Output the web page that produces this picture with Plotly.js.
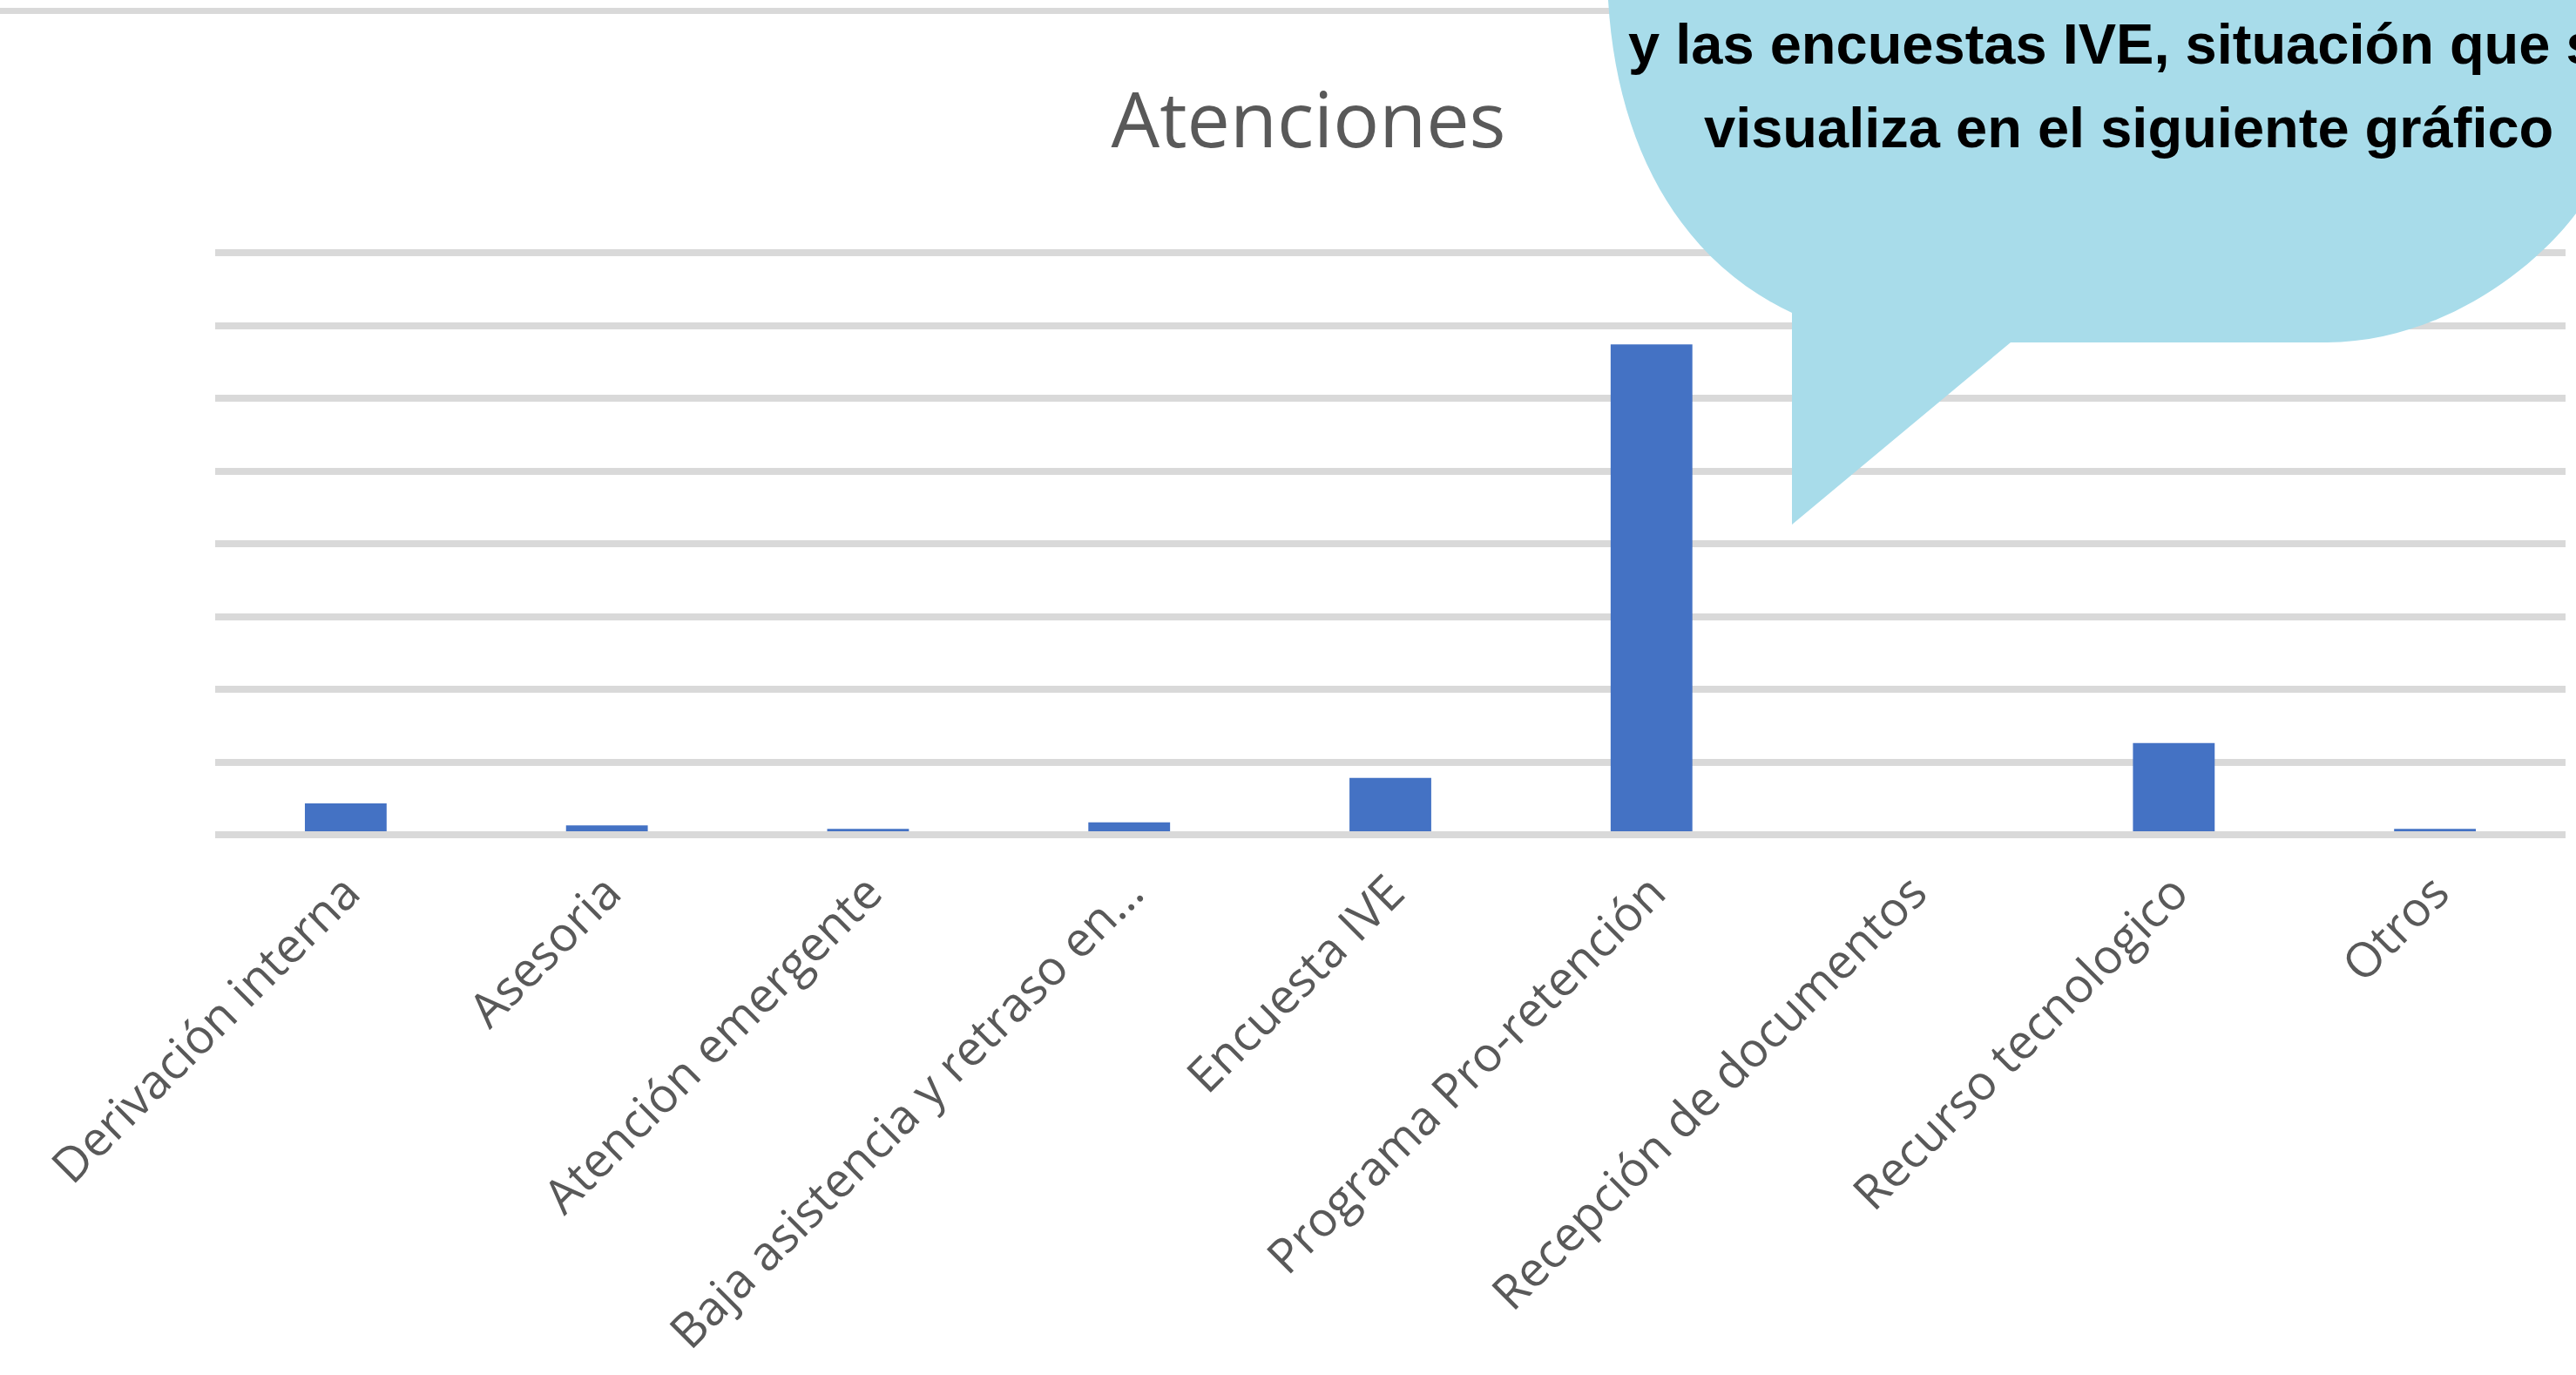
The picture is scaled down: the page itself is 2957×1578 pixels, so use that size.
<!DOCTYPE html>
<html>
<head>
<meta charset="utf-8">
<script src="https://cdn.plot.ly/plotly-3.0.1.min.js"></script>
<style>html,body{margin:0;padding:0;background:#fff;}#chart{width:2957px;height:1578px;}</style>
</head>
<body>
<div id="chart"></div>
<script>
// ---- data ----
const categories = [
  "Derivación interna",
  "Asesoria",
  "Atención emergente",
  "Baja asistencia y retraso en…",
  "Encuesta IVE",
  "Programa Pro-retención",
  "Recepción de documentos",
  "Recurso tecnologico",
  "Otros"
];
const atenciones = [43, 13, 8, 17, 78, 674, 0, 126, 8];
const yTickValues = [0, 100, 200, 300, 400, 500, 600, 700, 800];
const chartTitle = "Atenciones";
const bubbleLines = ["y las encuestas IVE, situación que se", "visualiza en el siguiente gráfico"];

// ---- geometry helpers (pixel -> paper) ----
const W = 2957, H = 1578;
const M = {l: 247, r: 12, t: 288, b: 620};
const plotW = W - M.l - M.r, plotH = H - M.t - M.b;
const yMax = plotH / 0.835;   // 83.5 px per 100 units
const px = x => ((x - M.l) / plotW).toFixed(5);
const py = y => ((H - M.b - y) / plotH).toFixed(5);
const P = (x, y) => px(x) + ',' + py(y);

const bubblePath =
  'M' + P(1846, -40) +
  ' L' + P(1846, 0) +
  ' C' + P(1856, 170) + ' ' + P(1930, 300) + ' ' + P(2057, 359) +
  ' L' + P(2057, 602) +
  ' L' + P(2308, 393) +
  ' L' + P(2671, 393) +
  ' C' + P(2790, 393) + ' ' + P(2900, 320) + ' ' + P(2957, 245) +
  ' L' + P(3000, 180) +
  ' L' + P(3000, -40) + ' Z';

const trace = {
  type: 'bar',
  x: categories,
  y: atenciones,
  marker: {color: '#4472c4'},
  hoverinfo: 'x+y'
};

const layout = {
  width: W, height: H,
  margin: M,
  paper_bgcolor: '#ffffff',
  plot_bgcolor: '#ffffff',
  showlegend: false,
  bargap: 0.687,
  title: {
    text: chartTitle,
    font: {family: 'Open Sans', size: 88, color: '#595959'},
    x: 1502 / W, xanchor: 'center', xref: 'container',
    y: 1 - 107 / H, yanchor: 'top', yref: 'container'
  },
  xaxis: {
    type: 'category',
    tickangle: -45,
    tickfont: {family: 'Open Sans', size: 55, color: '#595959'},
    ticklabelstandoff: 22,
    showgrid: false, zeroline: false, showline: false,
    ticks: '',
    automargin: false
  },
  yaxis: {
    range: [0, yMax],
    tickvals: yTickValues,
    showticklabels: false,
    showgrid: true, gridcolor: '#d9d9d9', gridwidth: 8,
    zeroline: false, showline: false, ticks: '',
    automargin: false
  },
  shapes: [
    {type: 'line', xref: 'paper', yref: 'paper', x0: 0, x1: 1, y0: 0, y1: 0,
     line: {color: '#d9d9d9', width: 8}, layer: 'above'},
    {type: 'line', xref: 'paper', yref: 'paper', x0: px(0), x1: px(W), y0: py(12.5), y1: py(12.5),
     line: {color: '#d9d9d9', width: 7}, layer: 'above'},
    {type: 'path', xref: 'paper', yref: 'paper', path: bubblePath,
     fillcolor: '#a8dcea', line: {width: 0}, layer: 'above'}
  ],
  annotations: [
    {text: bubbleLines[0], xref: 'paper', yref: 'paper', x: px(2443), y: py(50),
     xanchor: 'center', yanchor: 'middle', showarrow: false,
     font: {family: 'Liberation Sans', size: 65, color: '#000000', weight: 'bold'}},
    {text: bubbleLines[1], xref: 'paper', yref: 'paper', x: px(2443), y: py(146),
     xanchor: 'center', yanchor: 'middle', showarrow: false,
     font: {family: 'Liberation Sans', size: 65, color: '#000000', weight: 'bold'}}
  ]
};

Plotly.newPlot('chart', [trace], layout, {displayModeBar: false, staticPlot: true});
</script>
</body>
</html>
